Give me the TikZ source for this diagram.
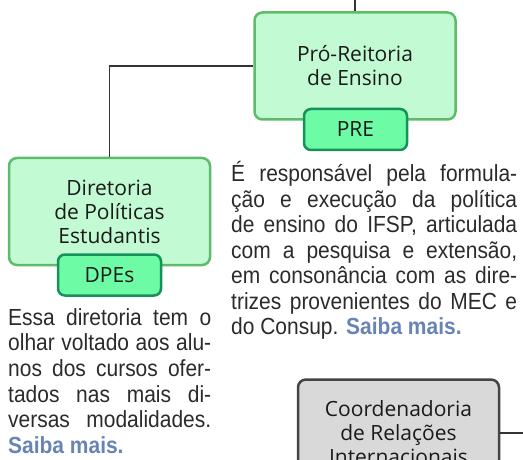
\documentclass[tikz,border=0pt]{standalone}
\usepackage{fontspec}
\setmainfont{Open Sans}
\newfontfamily\parafont[FakeStretch=0.9]{Liberation Sans}
\definecolor{boxfill}{HTML}{C2FBD3}
\definecolor{boxline}{HTML}{5DBB6A}
\definecolor{tagfill}{HTML}{6EFBA5}
\definecolor{tagline}{HTML}{15915A}
\definecolor{greyfill}{HTML}{D9D9D9}
\definecolor{greyline}{HTML}{444444}
\definecolor{linkc}{HTML}{6784B4}
\definecolor{paratext}{HTML}{2B2B2B}
\definecolor{boxtext}{HTML}{1A1A1A}
\definecolor{conn}{HTML}{333333}
\newcommand\mybxfont{\fontsize{21}{24}\selectfont}
\newcommand\myparfont{\parafont\fontsize{23.3}{25.5}\selectfont}
\begin{document}
\begin{tikzpicture}[x=1pt,y=-1pt,
  mainbox/.style={draw=boxline, fill=boxfill, line width=2.5pt, rounded corners=8pt,
    minimum width=201pt, minimum height=107pt, align=center, inner sep=0pt,
    font=\mybxfont, text=boxtext},
  greybox/.style={mainbox, draw=greyline, fill=greyfill},
  tagbox/.style={draw=tagline, fill=tagfill, line width=2.5pt, rounded corners=7pt,
    minimum width=103pt, minimum height=41pt, inner sep=0pt,
    font=\mybxfont, text=boxtext},
  pline/.style={anchor=base west, inner sep=0pt, font=\myparfont, text=paratext},
  connector/.style={draw=conn, line width=1.4pt}
]
\useasboundingbox (0,0) rectangle (523,460);
\clip (0,0) rectangle (523,460);

% free connector ends
\coordinate (topend) at (355,0);
\coordinate (rightend) at (523,433);

% boxes
\node[mainbox] (pre) at (355,66) {Pró-Reitoria\\de Ensino};
\node[mainbox] (dpe) at (109.5,211.5) {Diretoria\\de Políticas\\Estudantis};
\node[greybox] (cri) at (398.5,433) {Coordenadoria\\de Relações\\Internacionais};

% connectors
\draw[connector] (pre.north) -- (topend);
\draw[connector] (pre.west) -| (dpe.north);
\draw[connector] (cri.east) -- (rightend);

% tags
\node[tagbox] (pretag) at (355.5,129.5) {PRE};
\node[tagbox] (dpetag) at (109.5,275) {DPEs};

% left paragraph
\node[pline] (l1) at (8,325) {\makebox[203pt][s]{Essa diretoria tem o}};
\node[pline] (l2) at (8,350.7) {\makebox[203pt][s]{olhar voltado aos alu-}};
\node[pline] (l3) at (8,376.4) {\makebox[203pt][s]{nos dos cursos ofer-}};
\node[pline] (l4) at (8,402) {\makebox[203pt][s]{tados nas mais di-}};
\node[pline] (l5) at (8,427.8) {\makebox[203pt][s]{versas modalidades.}};
\node[pline] (l6) at (8,453.5) {\textcolor{linkc}{\bfseries Saiba mais.}};

% right paragraph
\node[pline] (r1) at (231,181.7) {\makebox[286pt][s]{É responsável pela formula-}};
\node[pline] (r2) at (231,207.2) {\makebox[286pt][s]{ção e execução da política}};
\node[pline] (r3) at (231,232.7) {\makebox[286pt][s]{de ensino do IFSP, articulada}};
\node[pline] (r4) at (231,258.2) {\makebox[286pt][s]{com a pesquisa e extensão,}};
\node[pline] (r5) at (231,283.7) {\makebox[286pt][s]{em consonância com as dire-}};
\node[pline] (r6) at (231,309.2) {\makebox[286pt][s]{trizes provenientes do MEC e}};
\node[pline] (r7) at (231,334.7) {do Consup. \textcolor{linkc}{\bfseries Saiba mais.}};
\end{tikzpicture}
\end{document}
